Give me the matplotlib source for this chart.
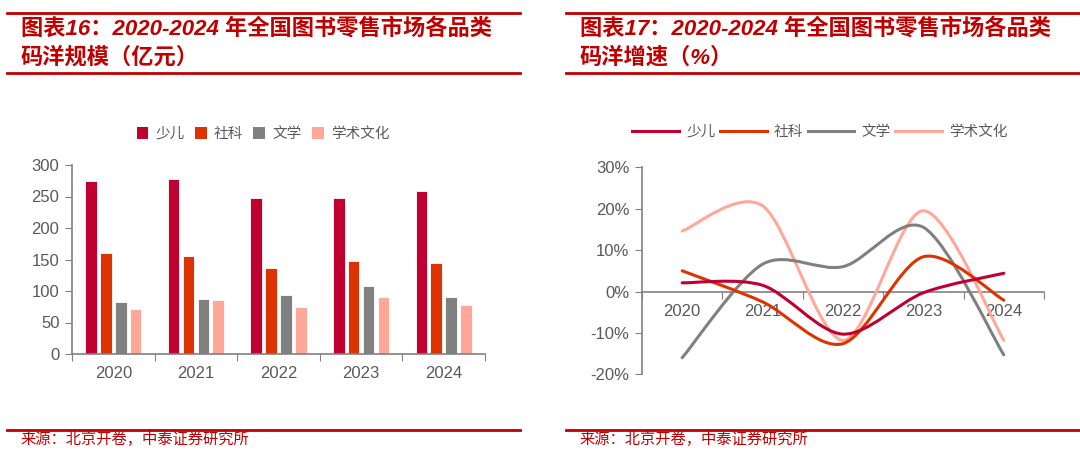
import matplotlib
matplotlib.use('Agg')
import matplotlib.pyplot as plt
import numpy as np
from matplotlib.path import Path
from matplotlib.patches import PathPatch
from matplotlib.lines import Line2D
from matplotlib.patches import Patch

plt.rcParams['font.family'] = ['Liberation Sans', 'Noto Sans CJK SC', 'DejaVu Sans']

# Dữ liệu
years = ['2020', '2021', '2022', '2023', '2024']
categories = ['少儿', '社科', '文学', '学术文化']
colors = ['#C00030', '#DD3300', '#808080', '#FFA899']

# quy mô (亿元)
size_shaoer = [275, 277, 248, 248, 258]
size_sheke = [160, 155, 136, 147, 145]
size_wenxue = [83, 88, 94, 108, 91]
size_xueshu = [71, 85, 75, 90, 78]

# tăng trưởng (%)
growth_shaoer = [2.1, 1.5, -10.3, -0.3, 4.4]
growth_sheke = [5.0, -2.5, -12.6, 8.4, -2.1]
growth_wenxue = [-16.0, 6.6, 6.0, 15.5, -15.3]
growth_xueshu = [14.6, 20.7, -11.8, 19.5, -11.8]

red = '#C00000'
gray_txt = '#595959'
axis_gray = '#808080'

fig = plt.figure(figsize=(10.8, 4.53), dpi=100)


def header(x0, x1, title1, title2):
    fig.add_artist(Line2D([x0 / 1080, x1 / 1080], [1 - 12.5 / 453] * 2, color=red, lw=2))
    fig.add_artist(Line2D([x0 / 1080, x1 / 1080], [1 - 72.5 / 453] * 2, color=red, lw=2))
    fig.text((x0 + 14) / 1080, 1 - 29 / 453, title1, color=red, fontsize=16, fontweight='bold',
             style='italic', va='center', ha='left')
    fig.text((x0 + 14) / 1080, 1 - 57.5 / 453, title2, color=red, fontsize=16, fontweight='bold',
             style='italic', va='center', ha='left')
    fig.add_artist(Line2D([x0 / 1080, x1 / 1080], [1 - 430 / 453] * 2, color=red, lw=2))
    fig.text((x0 + 13) / 1080, 1 - 439.5 / 453, '来源：北京开卷，中泰证券研究所', color=red,
             fontsize=11, va='center', ha='left')


header(7, 520, '图表16：2020-2024 年全国图书零售市场各品类', '码洋规模（亿元）')
header(566, 1080, '图表17：2020-2024 年全国图书零售市场各品类', '码洋增速（%）')

x = np.arange(len(years))

# ---- Biểu đồ cột ----
ax1 = fig.add_axes([72 / 1080, 1 - 354 / 453, (485 - 72) / 1080, (354 - 165) / 453])
bar_sets = [size_shaoer, size_sheke, size_wenxue, size_xueshu]
offsets = [-0.27, -0.09, 0.09, 0.27]
for vals, off, c, lab in zip(bar_sets, offsets, colors, categories):
    ax1.bar(x + off, vals, width=0.14, color=c, edgecolor='white', linewidth=0.6, label=lab)
ax1.set_xlim(-0.5, 4.5)
ax1.set_ylim(0, 300)
ax1.set_yticks(np.arange(0, 301, 50))
ax1.set_xticks(np.arange(-0.5, 4.6, 1))
ax1.set_xticklabels([])
ax1.set_xticks(x, minor=True)
ax1.set_xticklabels(years, minor=True)
ax1.tick_params(axis='x', which='minor', length=0, pad=9, labelsize=12, labelcolor=gray_txt)
ax1.tick_params(axis='x', which='major', length=5, color=axis_gray, direction='out')
ax1.tick_params(axis='y', length=5, color=axis_gray, labelsize=12, labelcolor=gray_txt, pad=4)
for s in ['top', 'right']:
    ax1.spines[s].set_visible(False)
for s in ['left', 'bottom']:
    ax1.spines[s].set_color(axis_gray)
    ax1.spines[s].set_linewidth(1.2)
h1 = [Patch(facecolor=c, edgecolor='none') for c in colors]
ax1.legend(h1, categories, loc='center', bbox_to_anchor=(263 / 1080, 1 - 134 / 453),
           bbox_transform=fig.transFigure, ncol=4, frameon=False, fontsize=10.5,
           handlelength=0.8, handleheight=0.8, handletextpad=0.5, columnspacing=0.7,
           labelcolor=gray_txt)


# ---- Biểu đồ đường (đường cong mượt) ----
def smooth_path(xs, ys, k=0.15):
    pts = np.column_stack([xs, ys]).astype(float)
    n = len(pts)
    verts = [pts[0]]
    codes = [Path.MOVETO]
    for i in range(n - 1):
        p0 = pts[i - 1] if i > 0 else pts[i]
        p1 = pts[i]
        p2 = pts[i + 1]
        p3 = pts[i + 2] if i + 2 < n else pts[i + 1]
        c1 = p1 + (p2 - p0) * k
        c2 = p2 - (p3 - p1) * k
        verts += [c1, c2, p2]
        codes += [Path.CURVE4] * 3
    return Path(verts, codes)


ax2 = fig.add_axes([642 / 1080, 1 - 374.3 / 453, (1044 - 642) / 1080, (374.3 - 167.3) / 453])
line_sets = [growth_shaoer, growth_sheke, growth_wenxue, growth_xueshu]
order = [3, 2, 1, 0]
for i in order:
    p = smooth_path(x, line_sets[i])
    ax2.add_patch(PathPatch(p, facecolor='none', edgecolor=colors[i], lw=2.2, capstyle='round',
                            zorder=3 + (3 - i)))
ax2.set_xlim(-0.5, 4.5)
ax2.set_ylim(-20, 30)
ax2.set_yticks(np.arange(-20, 31, 10))
ax2.set_yticklabels([f'{v}%' for v in range(-20, 31, 10)])
ax2.spines['bottom'].set_position(('data', 0))
ax2.set_xticks(np.arange(-0.5, 4.6, 1))
ax2.set_xticklabels([])
ax2.set_xticks(x, minor=True)
ax2.set_xticklabels(years, minor=True)
ax2.tick_params(axis='x', which='minor', length=0, pad=9, labelsize=12, labelcolor=gray_txt)
ax2.tick_params(axis='x', which='major', length=5, color=axis_gray, direction='out')
ax2.tick_params(axis='y', length=5, color=axis_gray, labelsize=12, labelcolor=gray_txt, pad=4)
for s in ['top', 'right']:
    ax2.spines[s].set_visible(False)
for s in ['left', 'bottom']:
    ax2.spines[s].set_color(axis_gray)
    ax2.spines[s].set_linewidth(1.2)
h2 = [Line2D([0], [0], color=c, lw=2.2) for c in colors]
ax2.legend(h2, categories, loc='center', bbox_to_anchor=(820 / 1080, 1 - 132 / 453),
           bbox_transform=fig.transFigure, ncol=4, frameon=False, fontsize=10.5,
           handlelength=3.2, handletextpad=0.5, columnspacing=0.3, labelcolor=gray_txt)

fig.savefig('out.png', dpi=100)
